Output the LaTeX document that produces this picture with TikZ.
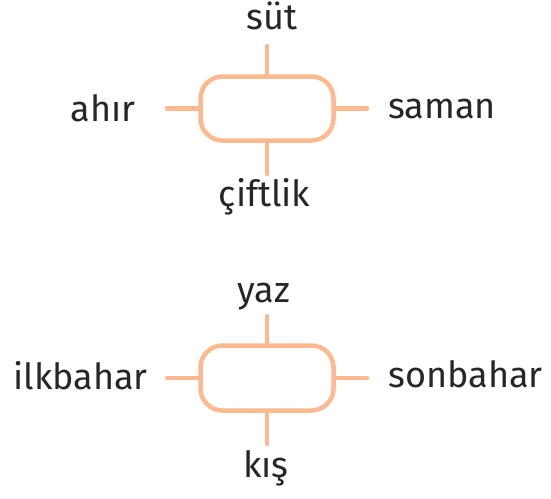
\documentclass[tikz,border=0pt]{standalone}
\usepackage{fontspec}
\setmainfont{Fira Sans}
\definecolor{seftali}{HTML}{FDB98F}
\definecolor{murekkep}{HTML}{262626}
\tikzset{
  kutu/.style={draw=seftali, line width=4.5pt, rounded corners=22pt,
    minimum width=133pt, minimum height=64pt, inner sep=0pt},
  kol/.style={draw=seftali, line width=4.5pt, line cap=round},
  etiket/.style={text=murekkep, font=\fontsize{36}{40}\selectfont, inner sep=0pt}
}
\begin{document}
\begin{tikzpicture}[x=1pt,y=-1pt]
        \useasboundingbox (0,0) rectangle (551,498);
        % Ust kutu
        \node[kutu] (ciftkutu) at (267,108.5) {};
        \coordinate (sutuc) at (267,46);
        \coordinate (ciftuc) at (267,174);
        \coordinate (ahiruc) at (167,108.5);
        \coordinate (samanuc) at (367,108.5);
        \draw[kol] (ciftkutu.north) -- (sutuc);
        \draw[kol] (ciftkutu.south) -- (ciftuc);
        \draw[kol] (ciftkutu.west) -- (ahiruc);
        \draw[kol] (ciftkutu.east) -- (samanuc);
        \node[etiket, anchor=base] (sut) at (272,29) {süt};
        \node[etiket, anchor=base] (ciftlik) at (264.5,206) {çiftlik};
        \node[etiket, anchor=base] (ahir) at (103,121) {ahır};
        \node[etiket, anchor=base] (saman) at (442,118) {saman};
        % Alt kutu
        \node[kutu, minimum height=65pt] (mevsim) at (267,378) {};
        \coordinate (yazuc) at (267,316);
        \coordinate (kisuc) at (267,444);
        \coordinate (ilkuc) at (167,378);
        \coordinate (sonuc) at (367,378);
        \draw[kol] (mevsim.north) -- (yazuc);
        \draw[kol] (mevsim.south) -- (kisuc);
        \draw[kol] (mevsim.west) -- (ilkuc);
        \draw[kol] (mevsim.east) -- (sonuc);
        \node[etiket, anchor=base] (yaz) at (264,302) {yaz};
        \node[etiket, anchor=base] (kis) at (266,477) {kış};
        \node[etiket, anchor=base] (ilkbahar) at (80.5,389) {ilkbahar};
        \node[etiket, anchor=base] (sonbahar) at (465.5,387) {sonbahar};
\end{tikzpicture}
\end{document}
